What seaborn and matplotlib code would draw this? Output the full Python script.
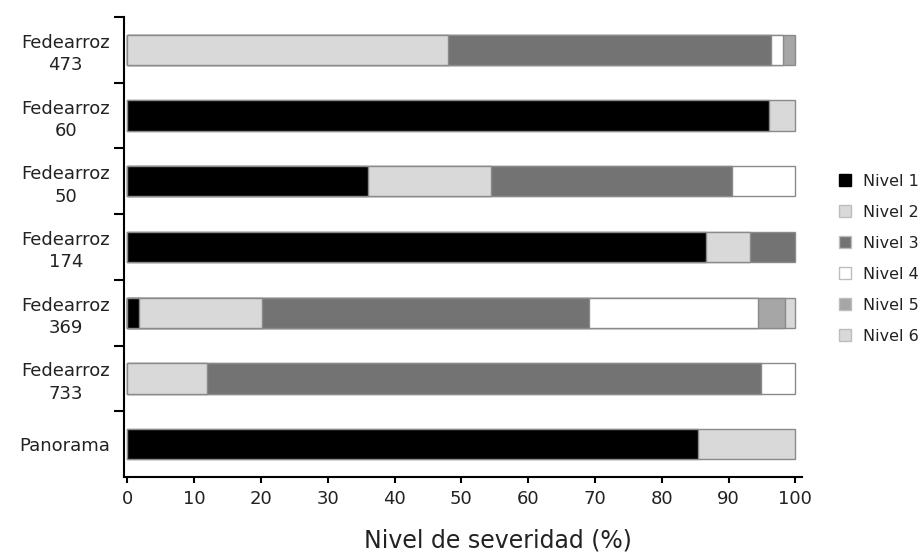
import matplotlib
matplotlib.use("Agg")

import matplotlib.pyplot as plt
import numpy as np
import pandas as pd
import seaborn as sns
from matplotlib.lines import Line2D

sns.set_style("ticks")
plt.rcParams['font.family'] = ['DejaVu Sans']

# data (percent of plants per severity level)
variedades = ["Fedearroz\n473", "Fedearroz\n60", "Fedearroz\n50", "Fedearroz\n174",
              "Fedearroz\n369", "Fedearroz\n733", "Panorama"]
nivel_1 = [0.0, 96.0, 36.0, 86.7, 1.8, 0.0, 85.4]
nivel_2 = [48.0, 4.0, 18.5, 6.5, 18.3, 12.0, 14.6]
nivel_3 = [48.4, 0.0, 36.0, 6.8, 49.0, 82.9, 0.0]
nivel_4 = [1.8, 0.0, 9.5, 0.0, 25.3, 5.1, 0.0]
nivel_5 = [1.8, 0.0, 0.0, 0.0, 4.0, 0.0, 0.0]
nivel_6 = [0.0, 0.0, 0.0, 0.0, 1.6, 0.0, 0.0]
niveles = ["Nivel 1", "Nivel 2", "Nivel 3", "Nivel 4", "Nivel 5", "Nivel 6"]
colores = ["#000000", "#d9d9d9", "#737373", "#ffffff", "#a6a6a6", "#d9d9d9"]

df = pd.DataFrame({"variedad": variedades, "Nivel 1": nivel_1, "Nivel 2": nivel_2,
                   "Nivel 3": nivel_3, "Nivel 4": nivel_4, "Nivel 5": nivel_5,
                   "Nivel 6": nivel_6})
cum = df[niveles].cumsum(axis=1)
# empty segments are not drawn (the next shorter bar already covers that length)
cum = cum.where(df[niveles] > 0)
cum["variedad"] = df["variedad"]

fig = plt.figure(figsize=(9.21, 5.55), dpi=100)
ax = fig.add_axes([0.1346, 0.1405, 0.7362, 0.8288])

# stacked bars: draw cumulative totals from the last level to the first
for nivel, col in reversed(list(zip(niveles, colores))):
    sub = cum[["variedad", nivel]].dropna()
    sns.barplot(data=sub, y="variedad", x=nivel, order=variedades, orient="h",
                color=col, edgecolor="#8a8a8a", linewidth=1.0, width=0.46,
                saturation=1, ax=ax)

ax.set_xlim(-0.5, 101)
ax.set_ylim(6.5, -0.5)
ax.set_xticks(np.arange(0, 101, 10))
ax.set_yticks(range(len(variedades)))
ax.set_yticklabels(variedades, ma="center", linespacing=1.3)
ax.set_yticks(np.arange(-0.5, 6, 1), minor=True)
ax.tick_params(axis="y", which="major", length=0, pad=10, labelsize=13, labelcolor="#222222")
ax.tick_params(axis="y", which="minor", length=7, width=1.5, color="black", direction="out")
ax.tick_params(axis="x", length=4.5, width=1.5, color="black", pad=5, labelsize=13,
               labelcolor="#222222")

for s in ["top", "right"]:
    ax.spines[s].set_visible(False)
for s in ["left", "bottom"]:
    ax.spines[s].set_linewidth(1.5)
    ax.spines[s].set_color("black")

ax.set_ylabel("")
ax.set_xlabel("Nivel de severidad (%)", fontsize=17, color="#222222")
ax.xaxis.set_label_coords(0.552, -0.111)

handles = [Line2D([0], [0], marker="s", linestyle="none", markersize=8,
                  markerfacecolor=c, markeredgecolor=("#000000" if c == "#000000" else "#bdbdbd"),
                  markeredgewidth=1.0) for c in colores]
fig.legend(handles, niveles, loc="center left", bbox_to_anchor=(837 / 921, 0.534),
           frameon=False, fontsize=11.5, handlelength=1, handletextpad=0.6,
           borderpad=0, borderaxespad=0, labelspacing=1.0, labelcolor="#222222")

plt.savefig("out.png", dpi=100)
